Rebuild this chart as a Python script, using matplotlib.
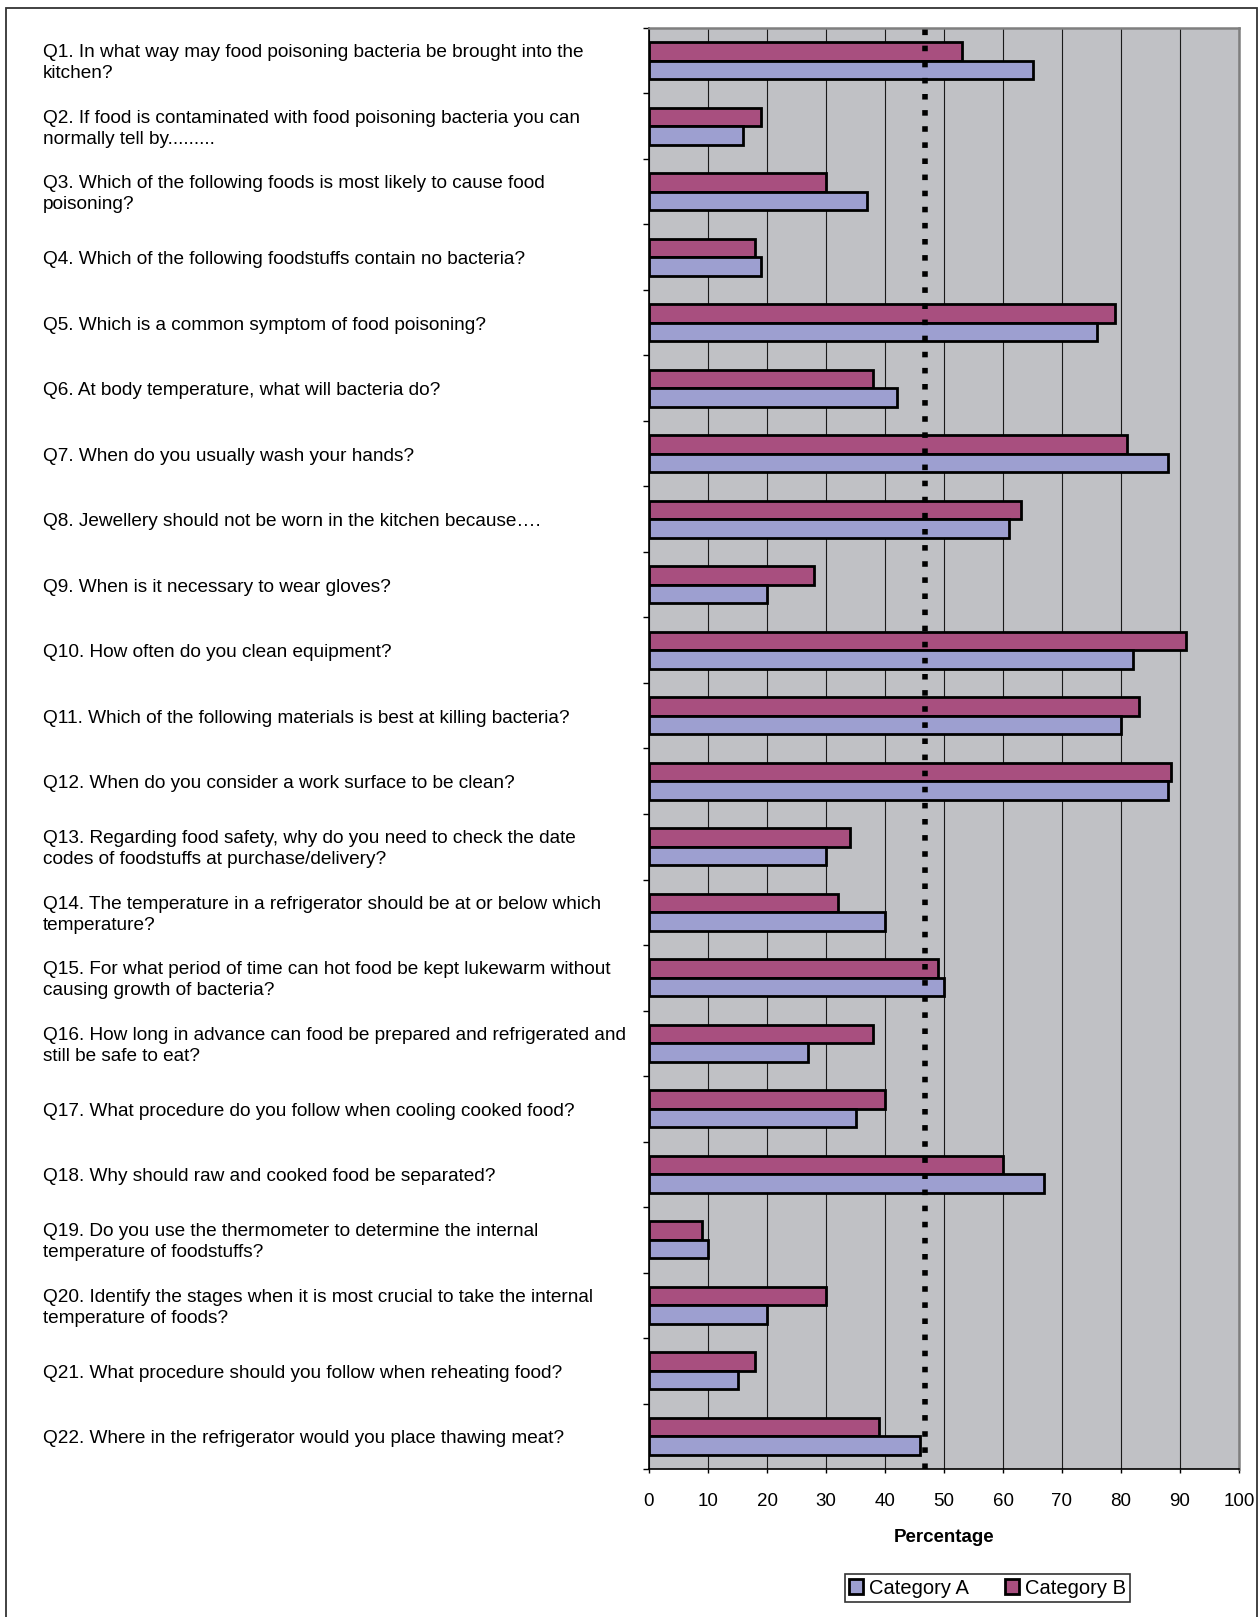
import numpy as np
import matplotlib.pyplot as plt
import matplotlib.transforms as mtransforms
from matplotlib.patches import Patch, Rectangle

plt.rcParams['font.family'] = ['Liberation Sans', 'DejaVu Sans']

questions = [
    "Q1. In what way may food poisoning bacteria be brought into the\nkitchen?",
    "Q2. If food is contaminated with food poisoning bacteria you can\nnormally tell by.........",
    "Q3. Which of the following foods is most likely to cause food\npoisoning?",
    "Q4. Which of the following foodstuffs contain no bacteria?",
    "Q5. Which is a common symptom of food poisoning?",
    "Q6. At body temperature, what will bacteria do?",
    "Q7. When do you usually wash your hands?",
    "Q8. Jewellery should not be worn in the kitchen because\u2026.",
    "Q9. When is it necessary to wear gloves?",
    "Q10. How often do you clean equipment?",
    "Q11. Which of the following materials is best at killing bacteria?",
    "Q12. When do you consider a work surface to be clean?",
    "Q13. Regarding food safety, why do you need to check the date\ncodes of foodstuffs at purchase/delivery?",
    "Q14. The temperature in a refrigerator should be at or below which\ntemperature?",
    "Q15. For what period of time can hot food be kept lukewarm without\ncausing growth of bacteria?",
    "Q16. How long in advance can food be prepared and refrigerated and\nstill be safe to eat?",
    "Q17. What procedure do you follow when cooling cooked food?",
    "Q18. Why should raw and cooked food be separated?",
    "Q19. Do you use the thermometer to determine the internal\ntemperature of foodstuffs?",
    "Q20. Identify the stages when it is most crucial to take the internal\ntemperature of foods?",
    "Q21. What procedure should you follow when reheating food?",
    "Q22. Where in the refrigerator would you place thawing meat?",
]

cat_a = [65, 16, 37, 19, 76, 42, 88, 61, 20, 82, 80, 88,
         30, 40, 50, 27, 35, 67, 10, 20, 15, 46]
cat_b = [53, 19, 30, 18, 79, 38, 81, 63, 28, 91, 83, 88.5,
         34, 32, 49, 38, 40, 60, 9, 30, 18, 39]
mean_line = 46.7

col_a = "#9D9FD0"
col_b = "#A84F7F"
bg = "#C0C1C5"

W, H = 1258, 1617
fig = plt.figure(figsize=(W / 100, H / 100), dpi=100)

# plot area in pixels: x 649..1239, y 28..1469
ax = fig.add_axes([649 / W, 1 - 1469 / H, 590 / W, 1441 / H])
ax.set_facecolor(bg)

y = np.arange(len(questions))
h = 0.285
ax.barh(y - h / 2, cat_b, height=h, color=col_b, edgecolor="black", linewidth=2, zorder=3)
ax.barh(y + h / 2, cat_a, height=h, color=col_a, edgecolor="black", linewidth=2, zorder=3)

ax.axvline(mean_line, color="black", linewidth=4, linestyle=(0, (1, 1.9)),
           dash_capstyle="butt", zorder=4)

ax.set_xlim(0, 100)
ax.set_ylim(len(questions) - 0.5, -0.5)
ax.set_xticks(np.arange(0, 101, 10))
ax.set_yticks(np.arange(-0.5, len(questions), 1))
ax.set_yticklabels([])
ax.grid(axis="x", color="#1a1a1a", linewidth=0.8, zorder=1)
ax.tick_params(axis="x", direction="out", length=3, width=1, labelsize=13.5, pad=14)
ax.tick_params(axis="y", direction="out", length=4.5, width=1)
for s in ["left", "bottom"]:
    ax.spines[s].set_color("black")
    ax.spines[s].set_linewidth(1.2)
for s in ["top", "right"]:
    ax.spines[s].set_color("#7f7f7f")
    ax.spines[s].set_linewidth(1.8)

ax.set_xlabel("Percentage", fontsize=13.5, fontweight="bold", labelpad=14)

trans = mtransforms.blended_transform_factory(fig.transFigure, ax.transData)
for i, q in enumerate(questions):
    ax.text(43 / W, i + 0.04, q, transform=trans, ha="left", va="center",
            fontsize=13.7, linespacing=1.3)

handles = [Patch(facecolor=col_a, edgecolor="black", linewidth=2, label="Category A"),
           Patch(facecolor=col_b, edgecolor="black", linewidth=2, label="Category B")]
leg = fig.legend(handles=handles, ncol=2, loc="center",
                 bbox_to_anchor=(987.5 / W, 1 - 1588 / H), fontsize=14.5,
                 frameon=True, fancybox=False, edgecolor="#333333", framealpha=1,
                 handlelength=0.7, handleheight=0.7, handletextpad=0.3,
                 columnspacing=1.8, borderpad=0.2, borderaxespad=0)
leg.get_frame().set_linewidth(1.2)

# outer border of the figure
fig.patches.append(Rectangle((5.5 / W, -0.01), (W - 1.5) / W - 5.5 / W, 1 - 7.5 / H + 0.01,
                             transform=fig.transFigure, fill=False,
                             edgecolor="#333333", linewidth=1.3))

fig.savefig("out.png", dpi=100)
